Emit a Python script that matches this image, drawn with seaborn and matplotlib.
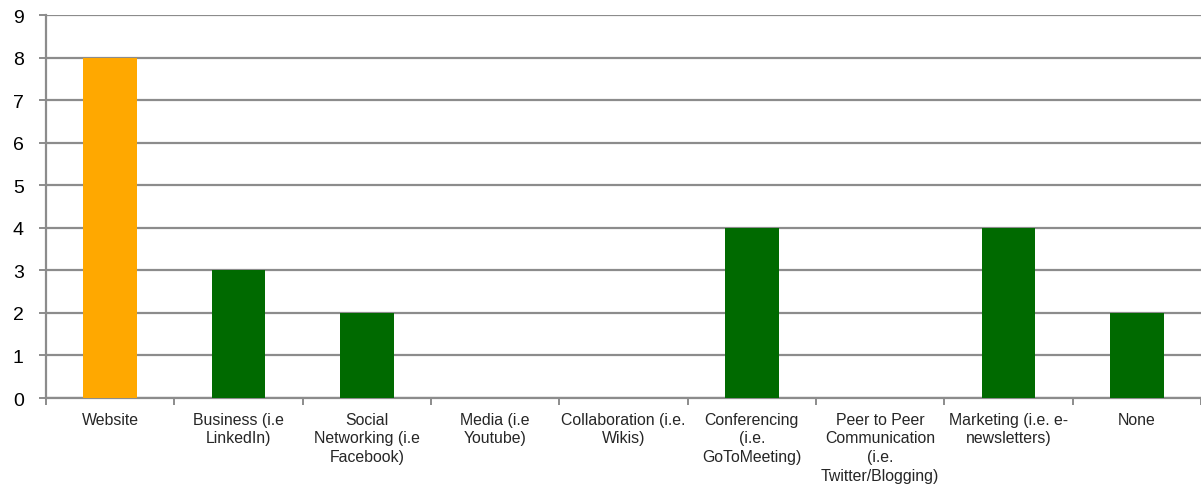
import matplotlib
matplotlib.use("Agg")
import matplotlib.pyplot as plt
import seaborn as sns
import pandas as pd
from matplotlib.ticker import FixedLocator

categories = [
    "Website",
    "Business (i.e\nLinkedIn)",
    "Social\nNetworking (i.e\nFacebook)",
    "Media (i.e\nYoutube)",
    "Collaboration (i.e.\nWikis)",
    "Conferencing\n(i.e.\nGoToMeeting)",
    "Peer to Peer\nCommunication\n(i.e.\nTwitter/Blogging)",
    "Marketing (i.e. e-\nnewsletters)",
    "None",
]
counts = [8, 3, 2, 0, 0, 4, 0, 4, 2]
bar_colors = ["#FFA800", "#006A00", "#006A00", "#006A00", "#006A00",
              "#006A00", "#006A00", "#006A00", "#006A00"]

sns.set_style("white")
plt.rcParams["font.family"] = ["Liberation Sans", "DejaVu Sans"]

df = pd.DataFrame({"category": categories, "count": counts})

fig = plt.figure(figsize=(12.01, 4.85), dpi=100)
ax = fig.add_axes([0.0383, 0.1773, 0.9617, 0.7897])

sns.barplot(data=df, x="category", y="count", hue="category",
            palette=bar_colors, width=0.42, legend=False, ax=ax,
            saturation=1, linewidth=0, zorder=3)

ax.set_ylim(0, 9)
ax.set_xlim(-0.5, len(categories) - 0.5)
ax.set_yticks(range(0, 10))
ax.yaxis.grid(True, color="#8C8C8C", linewidth=1.6, zorder=0)
ax.set_axisbelow(True)
ax.set_xlabel("")
ax.set_ylabel("")

for side in ["top", "right"]:
    ax.spines[side].set_visible(False)
for side in ["left", "bottom"]:
    ax.spines[side].set_color("#8C8C8C")
    ax.spines[side].set_linewidth(1.6)

ax.tick_params(axis="y", labelsize=14, length=5, width=1.4, color="#8C8C8C",
               left=True, pad=11, labelcolor="black")
ax.tick_params(axis="x", which="major", length=0, labelsize=11.4, pad=10)
ax.xaxis.set_minor_locator(FixedLocator([i + 0.5 for i in range(-1, len(categories))]))
ax.tick_params(axis="x", which="minor", length=5, width=1.4, color="#8C8C8C", bottom=True)
ax.set_xticks(range(len(categories)))
ax.set_xticklabels(categories, linespacing=1.3)

fig.savefig("out.png", dpi=100, facecolor="white")
